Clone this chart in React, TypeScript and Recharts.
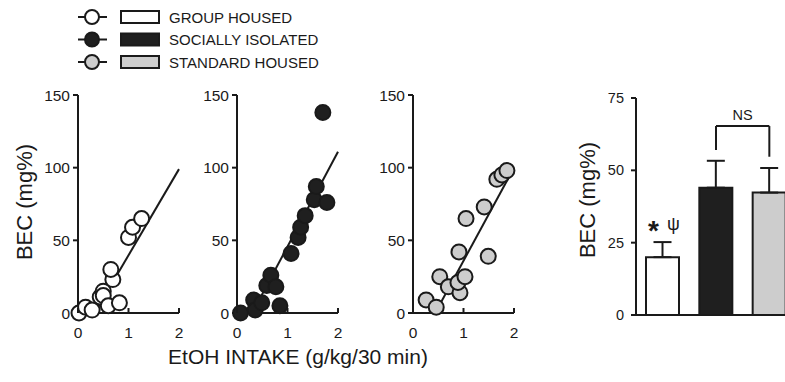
import {
  ScatterChart,
  Scatter,
  XAxis,
  YAxis,
  ReferenceLine,
  BarChart,
  Bar,
  ErrorBar,
  LabelList,
  Cell,
} from "recharts";

const FONT = '"Liberation Sans", Arial, Helvetica, sans-serif';
const INK = "#1a1a1a";

// groups, in legend / bar order
const GROUPS = ["GROUP HOUSED", "SOCIALLY ISOLATED", "STANDARD HOUSED"];
const FILLS = ["#ffffff", "#1f1f1f", "#cdcdcd"];

const INTAKE_TICKS = [0, 1, 2];
const BEC_TICKS = [0, 50, 100, 150];
const BAR_TICKS = [0, 25, 50, 75];

// individual animals: EtOH intake (g/kg/30 min) vs BEC (mg%)
const GH_INTAKE = [0.02, 0.15, 0.28, 0.44, 0.5, 0.5, 0.6, 0.69, 0.65, 0.82, 1.0, 1.08, 1.26];
const GH_BEC = [0, 4, 2, 11, 15, 12, 5, 23, 30, 7, 52, 59, 65];

const SI_INTAKE = [0.07, 0.33, 0.36, 0.49, 0.59, 0.67, 0.77, 0.85, 1.07, 1.21, 1.26, 1.35, 1.53, 1.57, 1.78, 1.7];
const SI_BEC = [0, 9, 2, 7, 19, 26, 18, 5, 41, 52, 59, 67, 78, 87, 76, 138];

const SH_INTAKE = [0.26, 0.46, 0.53, 0.7, 0.91, 0.93, 0.89, 1.03, 1.05, 1.41, 1.49, 1.66, 1.76, 1.86];
const SH_BEC = [9, 4, 25, 18, 42, 14, 21, 25, 65, 73, 39, 92, 95, 98];

// regression line end points per group
const FIT_INTAKE = [[0.33, 2], [0.3, 2], [0.44, 2]];
const FIT_BEC = [[0, 99], [0, 111], [0, 100]];

// mean BEC with upper SEM
const BAR_MEAN = [20, 44, 42.3];
const BAR_SEM = [5.2, 9.3, 8.5];
const STAR = ["*", "", ""];
const PSI = ["ψ", "", ""];
const NS_LEGS = [57, 54.7];
const NS_TOP = 65.3;

const zip = (xs: number[], ys: number[]) => xs.map((x, i) => ({ x, y: ys[i] }));

function UpTick({ x, y, payload }: any) {
  return (
    <g>
      <line x1={x} x2={x} y1={y} y2={y - 5} stroke={INK} strokeWidth={2} />
      <text x={x} y={y + 25} textAnchor="middle" fontSize={15.5} fill={INK} fontFamily={FONT}>
        {payload.value}
      </text>
    </g>
  );
}

function IntakePanel({ idx, left, mLeft, points }: { idx: number; left: number; mLeft: number; points: { x: number; y: number }[] }) {
  const fill = FILLS[idx];
  const fit = zip(FIT_INTAKE[idx], FIT_BEC[idx]);
  return (
    <div style={{ position: "absolute", left, top: 0 }}>
      <ScatterChart width={200} height={382} margin={{ top: 95, right: 200 - (mLeft + 40 + 101), bottom: 39, left: mLeft }}>
        <XAxis
          type="number"
          dataKey="x"
          domain={[0, 2]}
          ticks={INTAKE_TICKS}
          height={30}
          tickSize={0}
          tickMargin={0}
          tickLine={false}
          tick={<UpTick />}
          axisLine={{ stroke: INK, strokeWidth: 2 }}
        />
        <YAxis
          type="number"
          dataKey="y"
          domain={[0, 150]}
          ticks={BEC_TICKS}
          width={40}
          tickSize={5}
          tickMargin={3}
          axisLine={{ stroke: INK, strokeWidth: 2 }}
          tickLine={{ stroke: INK, strokeWidth: 2 }}
          tick={{ fontSize: 15.5, fill: INK, fontFamily: FONT }}
        />
        <ReferenceLine segment={fit} stroke={INK} strokeWidth={2} ifOverflow="visible" />
        <Scatter
          data={points}
          isAnimationActive={false}
          shape={(p: any) => <circle cx={p.cx} cy={p.cy} r={7.5} fill={fill} stroke={INK} strokeWidth={2} />}
        />
      </ScatterChart>
    </div>
  );
}

function StarLabel({ x, y, width, value }: any) {
  if (!value) return null;
  return (
    <text x={x + width / 2 - 9} y={y - 17} textAnchor="middle" fontSize={28} fontWeight="bold" fill={INK} fontFamily={FONT}>
      {value}
    </text>
  );
}

function PsiLabel({ x, y, width, value }: any) {
  if (!value) return null;
  return (
    <text x={x + width / 2 + 11} y={y - 27} textAnchor="middle" fontSize={18} fill={INK} fontFamily={FONT}>
      {value}
    </text>
  );
}

export default function App() {
  const barData = GROUPS.map((g, i) => ({
    group: g,
    bec: BAR_MEAN[i],
    err: [0, BAR_SEM[i]],
    star: STAR[i],
    psi: PSI[i],
  }));

  return (
    <div
      style={{
        position: "fixed",
        left: 0,
        top: 0,
        width: 785,
        height: 382,
        overflow: "hidden",
        background: "#fff",
        fontFamily: FONT,
      }}
    >
      {/* legend */}
      <svg width={340} height={75} style={{ position: "absolute", left: 0, top: 0 }}>
        {GROUPS.map((name, i) => {
          const cy = 17 + i * 22.5;
          return (
            <g key={name}>
              <line x1={78} x2={107} y1={cy} y2={cy} stroke={INK} strokeWidth={2} />
              <circle cx={92} cy={cy} r={7} fill={FILLS[i]} stroke={INK} strokeWidth={2} />
              <rect x={121} y={cy - 6} width={38} height={12} fill={FILLS[i]} stroke={INK} strokeWidth={2} />
              <text x={169} y={cy} dominantBaseline="central" fontSize={15} fill={INK} fontFamily={FONT}>
                {name}
              </text>
            </g>
          );
        })}
      </svg>

      <IntakePanel idx={0} left={0} mLeft={38} points={zip(GH_INTAKE, GH_BEC)} />
      <IntakePanel idx={1} left={160} mLeft={37} points={zip(SI_INTAKE, SI_BEC)} />
      <IntakePanel idx={2} left={335} mLeft={38} points={zip(SH_INTAKE, SH_BEC)} />

      <div style={{ position: "absolute", left: 560, top: 0 }}>
        <BarChart width={240} height={382} data={barData} margin={{ top: 98, right: 4, bottom: 57, left: 36 }}>
          <XAxis dataKey="group" tick={false} tickLine={false} height={10} axisLine={{ stroke: INK, strokeWidth: 2 }} />
          <YAxis
            domain={[0, 75]}
            ticks={BAR_TICKS}
            width={40}
            tickSize={5}
            tickMargin={7}
            axisLine={{ stroke: INK, strokeWidth: 2 }}
            tickLine={{ stroke: INK, strokeWidth: 2 }}
            tick={{ fontSize: 14.5, fill: INK, fontFamily: FONT }}
          />
          <Bar dataKey="bec" barSize={33} stroke={INK} strokeWidth={2} isAnimationActive={false}>
            {barData.map((d, i) => (
              <Cell key={d.group} fill={FILLS[i]} />
            ))}
            <ErrorBar dataKey="err" width={9} stroke={INK} strokeWidth={2} direction="y" />
            <LabelList dataKey="star" content={StarLabel} />
            <LabelList dataKey="psi" content={PsiLabel} />
          </Bar>
          <ReferenceLine
            segment={[{ x: GROUPS[1], y: NS_LEGS[0] }, { x: GROUPS[1], y: NS_TOP }]}
            stroke={INK}
            strokeWidth={2}
          />
          <ReferenceLine
            segment={[{ x: GROUPS[2], y: NS_LEGS[1] }, { x: GROUPS[2], y: NS_TOP }]}
            stroke={INK}
            strokeWidth={2}
          />
          <ReferenceLine
            segment={[{ x: GROUPS[1], y: NS_TOP }, { x: GROUPS[2], y: NS_TOP }]}
            stroke={INK}
            strokeWidth={2}
            label={{ value: "NS", position: "top", fontSize: 14.5, fill: INK, fontFamily: FONT, offset: 6 }}
          />
        </BarChart>
      </div>

      {/* axis titles */}
      <svg width={785} height={382} style={{ position: "absolute", left: 0, top: 0, pointerEvents: "none" }}>
        <text transform="translate(32,202) rotate(-90)" textAnchor="middle" fontSize={22} fill={INK} fontFamily={FONT}>
          BEC (mg%)
        </text>
        <text transform="translate(595,200) rotate(-90)" textAnchor="middle" fontSize={22} fill={INK} fontFamily={FONT}>
          BEC (mg%)
        </text>
        <text x={298} y={364} textAnchor="middle" fontSize={21} fill={INK} fontFamily={FONT}>
          EtOH INTAKE (g/kg/30 min)
        </text>
      </svg>
    </div>
  );
}
